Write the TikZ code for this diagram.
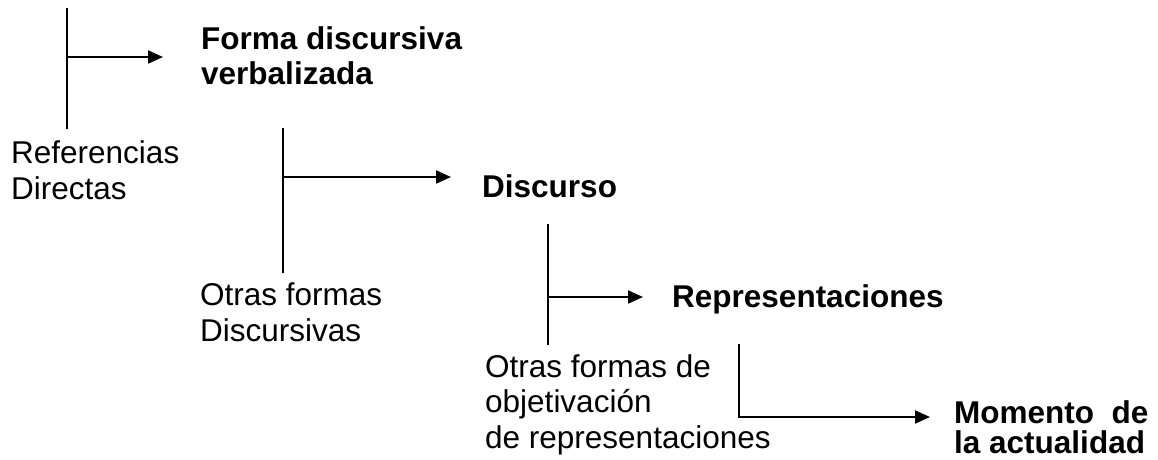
\documentclass[tikz,border=0pt]{standalone}
\usepackage{fontspec}
\setmainfont{Liberation Sans}
\usetikzlibrary{arrows.meta}
\tikzset{
  lbl/.style={anchor=north west, inner sep=0pt, align=left, font=\fontsize{31.5}{35.5}\selectfont},
  blbl/.style={lbl, font=\fontsize{31.5}{35.5}\selectfont\bfseries},
  bar/.style={line width=2pt},
  arr/.style={line width=2pt, -{Triangle[length=15pt,width=13pt]}}
}
\begin{document}
\begin{tikzpicture}[x=1pt,y=-1pt]
\useasboundingbox (0,0) rectangle (1158,459);
% texts
\node[blbl] (forma) at (201,26) {Forma discursiva\\verbalizada};
\node[lbl] (refs) at (11,140.5) {Referencias\\Directas};
\node[blbl] (disc) at (482,174.5) {Discurso};
\node[lbl] (otras1) at (200,282.5) {Otras formas\\Discursivas};
\node[blbl] (repr) at (672,284.5) {Representaciones};
\node[lbl] (otras2) at (485,354) {Otras formas de\\objetivación\\de representaciones};
\node[blbl, font=\fontsize{31.5}{30.5}\selectfont\bfseries] (mom) at (954,400) {Momento\ \ de\\la actualidad};
% bracket 1
\coordinate (b1t) at (67,8);
\coordinate (b1b) at (67,129);
\coordinate (b1j) at (67,57);
\coordinate (b1e) at (163,57);
\draw[bar] (b1t) -- (b1b);
\draw[arr] (b1j) -- (b1e);
% bracket 2
\coordinate (b2t) at (283,128);
\coordinate (b2b) at (283,273);
\coordinate (b2j) at (283,177);
\coordinate (b2e) at (451,177);
\draw[bar] (b2t) -- (b2b);
\draw[arr] (b2j) -- (b2e);
% bracket 3
\coordinate (b3t) at (548,224);
\coordinate (b3b) at (548,345);
\coordinate (b3j) at (548,297);
\coordinate (b3e) at (643,297);
\draw[bar] (b3t) -- (b3b);
\draw[arr] (b3j) -- (b3e);
% bracket 4
\coordinate (b4t) at (739,344);
\coordinate (b4j) at (739,417);
\coordinate (b4e) at (930,417);
\draw[arr] (b4t) -- (b4j) -- (b4e);
\end{tikzpicture}
\end{document}
